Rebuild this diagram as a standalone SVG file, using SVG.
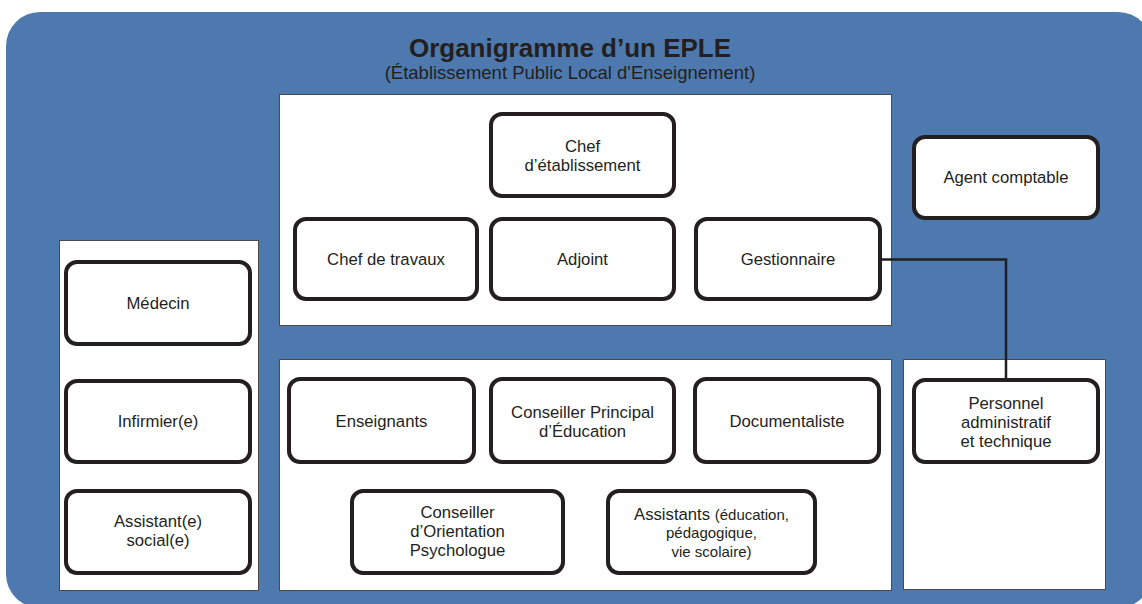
<svg xmlns="http://www.w3.org/2000/svg" width="1142" height="604" viewBox="0 0 1142 604">
<style>
.bg{fill:#4e79ae}
.panel{fill:#fff;stroke:#4a4a4a;stroke-width:1}
.node{fill:#fff;stroke:#231f20;stroke-width:4}
text{font-family:"Liberation Sans",Arial,sans-serif;fill:#231f20;text-anchor:middle}
.t{font-size:16.7px}
.s{font-size:15px}
.title{font-size:26px;font-weight:bold}
.sub{font-size:18.5px}
.conn{fill:none;stroke:#231f20;stroke-width:2.5}
</style>
<rect class="bg" x="6" y="12" width="1146" height="596" rx="34" ry="34"/>
<text class="title" x="570" y="57">Organigramme d’un EPLE</text>
<text class="sub" x="570" y="79">(Établissement Public Local d'Enseignement)</text>
<g id="panels">
<rect class="panel" x="279.5" y="94.5" width="612" height="231"/>
<rect class="panel" x="59.5" y="240.5" width="199" height="350"/>
<rect class="panel" x="279.5" y="359.5" width="612" height="231"/>
<rect class="panel" x="903.5" y="359.5" width="202" height="230"/>
</g>
<g id="connectors">
<path class="conn" d="M880 259.5 H1006 V380"/>
</g>
<g id="chef"><rect class="node" x="491" y="114" width="183" height="82" rx="11"/><text class="t" x="582.5" y="152">Chef</text><text class="t" x="582.5" y="171">d’établissement</text></g>
<g id="agent"><rect class="node" x="914" y="137" width="184" height="81" rx="11"/><text class="t" x="1006" y="183">Agent comptable</text></g>
<g id="cheftravaux"><rect class="node" x="295" y="219" width="182" height="80" rx="11"/><text class="t" x="386" y="265">Chef de travaux</text></g>
<g id="adjoint"><rect class="node" x="491" y="219" width="183" height="80" rx="11"/><text class="t" x="582.5" y="265">Adjoint</text></g>
<g id="gestionnaire"><rect class="node" x="696" y="219" width="184" height="80" rx="11"/><text class="t" x="788" y="265">Gestionnaire</text></g>
<g id="medecin"><rect class="node" x="66" y="262" width="184" height="82" rx="11"/><text class="t" x="158" y="309">Médecin</text></g>
<g id="infirmier"><rect class="node" x="66" y="381" width="184" height="81" rx="11"/><text class="t" x="158" y="427">Infirmier(e)</text></g>
<g id="assistantsocial"><rect class="node" x="66" y="491" width="184" height="82" rx="11"/><text class="t" x="158" y="527">Assistant(e)</text><text class="t" x="158" y="546">social(e)</text></g>
<g id="enseignants"><rect class="node" x="289" y="379" width="185" height="83" rx="11"/><text class="t" x="381.5" y="427">Enseignants</text></g>
<g id="cpe"><rect class="node" x="491" y="379" width="183" height="83" rx="11"/><text class="t" x="582.5" y="418">Conseiller Principal</text><text class="t" x="582.5" y="437">d’Éducation</text></g>
<g id="documentaliste"><rect class="node" x="695" y="379" width="184" height="83" rx="11"/><text class="t" x="787" y="427">Documentaliste</text></g>
<g id="personnel"><rect class="node" x="914" y="380" width="184" height="82" rx="11"/><text class="t" x="1006" y="409">Personnel</text><text class="t" x="1006" y="428">administratif</text><text class="t" x="1006" y="447">et technique</text></g>
<g id="cop"><rect class="node" x="352" y="491" width="211" height="82" rx="11"/><text class="t" x="457.5" y="518">Conseiller</text><text class="t" x="457.5" y="537">d’Orientation</text><text class="t" x="457.5" y="556">Psychologue</text></g>
<g id="assistants"><rect class="node" x="608" y="491" width="207" height="82" rx="11"/><text x="711.5" y="520"><tspan class="t">Assistants </tspan><tspan class="s">(éducation,</tspan></text><text class="s" x="711.5" y="538">pédagogique,</text><text class="s" x="711.5" y="557">vie scolaire)</text></g>
</svg>
